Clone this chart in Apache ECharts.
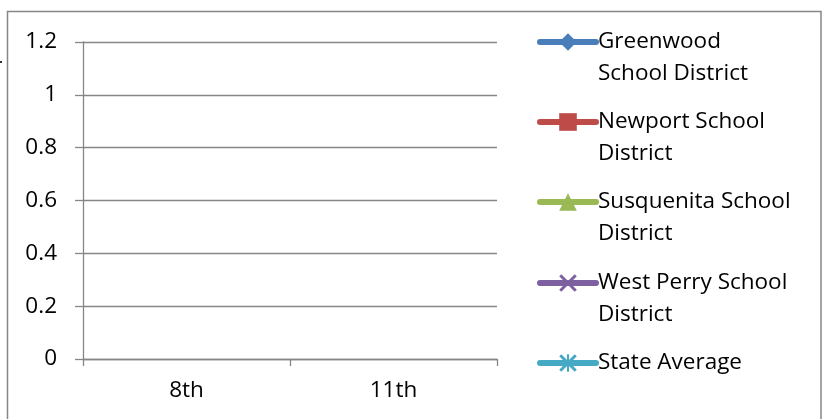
<!DOCTYPE html>
<html>
<head>
<meta charset="utf-8">
<script src="https://cdn.jsdelivr.net/npm/echarts@6/dist/echarts.min.js"></script>
<style>
html,body{margin:0;padding:0;background:#fff;}
#chart{width:828px;height:419px;}
</style>
</head>
<body>
<div id="chart"></div>
<script>
// ---- data (the reference chart shows no plotted values) ----
const categories = ['8th', '11th'];
const seriesNames = ['Greenwood School District', 'Newport School District', 'Susquenita School District', 'West Perry School District', 'State Average'];
const legendLabels = ['Greenwood\nSchool District', 'Newport School\nDistrict', 'Susquenita School\nDistrict', 'West Perry School\nDistrict', 'State Average'];
const greenwood = [null, null];
const newport = [null, null];
const susquenita = [null, null];
const westPerry = [null, null];
const stateAverage = [null, null];
const yMin = 0, yMax = 1.2, yStep = 0.2;

const values = [greenwood, newport, susquenita, westPerry, stateAverage];
const colors = ['#4A7EBB', '#BE4B48', '#98B954', '#7D60A0', '#46AAC5'];
const xPath = 'path://M0,1.2L1.2,0L5,3.8L8.8,0L10,1.2L6.2,5L10,8.8L8.8,10L5,6.2L1.2,10L0,8.8L3.8,5Z';
const starPath = 'path://M0,1.2L1.2,0L5,3.8L8.8,0L10,1.2L6.2,5L10,8.8L8.8,10L5,6.2L1.2,10L0,8.8L3.8,5Z M4.4,0L5.6,0L5.6,10L4.4,10Z';
const symbols = ['diamond', 'rect', 'triangle', xPath, starPath];
const legendCenters = [42, 122, 202, 283, 363];

const font = 'Open Sans';
const chart = echarts.init(document.getElementById('chart'));

const legends = seriesNames.map((name, i) => {
  const twoLine = legendLabels[i].indexOf('\n') >= 0;
  return {
    data: [name],
    orient: 'vertical',
    left: 537,
    top: twoLine ? legendCenters[i] - 48 : legendCenters[i] - 16,
    padding: 0,
    itemWidth: 56,
    itemHeight: 22,
    selectedMode: false,
    lineStyle: { width: 6, cap: 'round' },
    formatter: () => (twoLine ? '\n' : '') + legendLabels[i],
    textStyle: { fontFamily: font, fontSize: 22.5, color: '#000', lineHeight: 32, padding: [0, 0, 0, -3] }
  };
});

chart.setOption({
  animation: false,
  backgroundColor: '#fff',
  grid: { left: 83, right: 331, top: 42, bottom: 60, containLabel: false },
  legend: legends,
  xAxis: {
    type: 'category',
    data: categories,
    boundaryGap: true,
    axisLine: { show: true, lineStyle: { color: '#868686', width: 1.3 } },
    axisTick: { show: true, length: 7, lineStyle: { color: '#868686', width: 1.3 } },
    axisLabel: { fontFamily: font, fontSize: 22.5, color: '#000', margin: 20 },
    splitLine: { show: false }
  },
  yAxis: {
    type: 'value',
    min: yMin, max: yMax, interval: yStep,
    axisLine: { show: true, lineStyle: { color: '#868686', width: 1.3 } },
    axisTick: { show: true, length: 8, lineStyle: { color: '#868686', width: 1.3 } },
    axisLabel: { fontFamily: font, fontSize: 22.5, color: '#000', margin: 26 },
    splitLine: { show: true, lineStyle: { color: '#868686', width: 1.3 } }
  },
  series: seriesNames.map((name, i) => ({
    name: name,
    type: 'line',
    data: values[i],
    symbol: symbols[i],
    symbolSize: 17,
    color: colors[i],
    itemStyle: { color: colors[i] },
    lineStyle: { color: colors[i], width: 6, cap: 'round' }
  })),
  graphic: [
    { type: 'rect', shape: { x: 7.5, y: 11.5, width: 813.5, height: 430 },
      style: { fill: 'none', stroke: '#868686', lineWidth: 1.5 }, z: -1 },
    { type: 'rect', shape: { x: 0, y: 61, width: 2, height: 2 }, style: { fill: '#333' } }
  ]
});
</script>
</body>
</html>
